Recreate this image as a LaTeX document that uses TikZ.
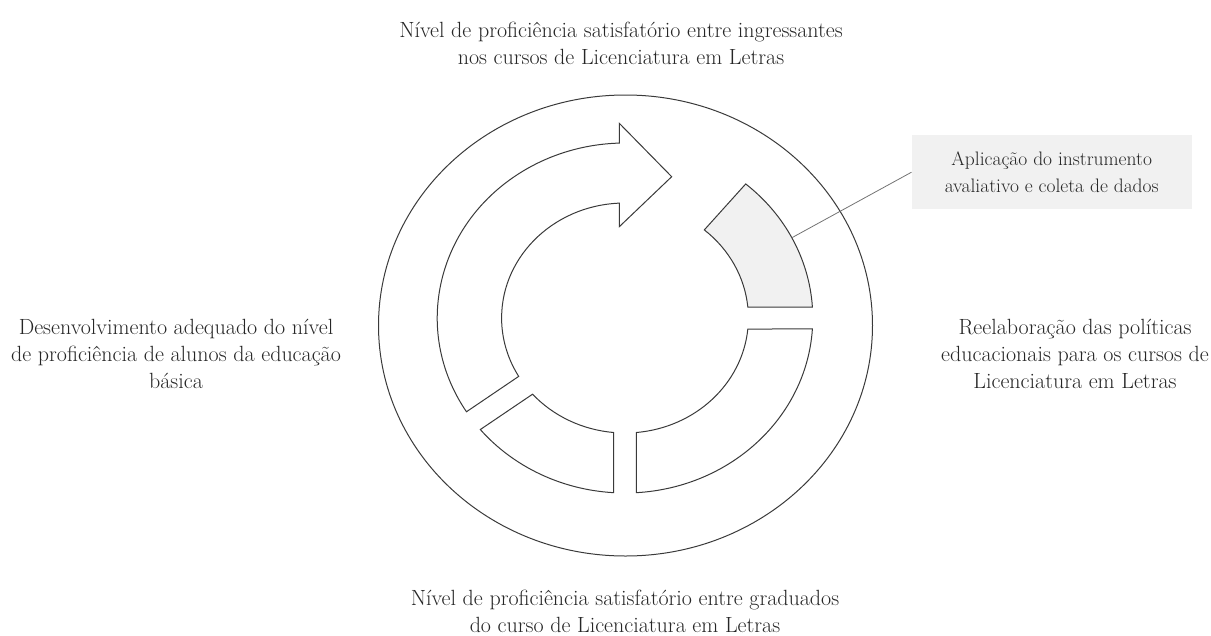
\documentclass[tikz,border=0pt]{standalone}
\usepackage{fontspec}
\definecolor{txt}{HTML}{262626}
\definecolor{edge}{HTML}{3A3A3A}
\definecolor{shade}{HTML}{F1F1F1}
\begin{document}
\begin{tikzpicture}[x=1pt,y=1pt,
  lbl/.style={align=center, text=txt, font=\fontsize{22}{27}\selectfont, inner sep=0pt},
  ring/.style={draw=edge, line width=1pt},
  seg/.style={draw=edge, line width=1pt, fill=white, line join=miter},
  hiseg/.style={seg, fill=shade},
  callout/.style={align=center, text=txt, font=\fontsize{19.5}{26.7}\selectfont, inner sep=0pt,
    fill=shade, minimum width=280, minimum height=74},
  leader/.style={draw=black!55, line width=0.8pt}
]
\useasboundingbox (0,0) rectangle (1211,-635);
% outer ellipse
\draw[ring] (625.5,-325.5) ellipse[x radius=247, y radius=230.5];
% ring segments
\begin{scope}[shift={(625,-318)}, xscale=1.073]
  % arrow
  \draw[seg] (91.74:175) -- (-5.3,194.7) -- (43.5,141.3) -- (-5.3,91.3) -- (92.64:115)
    arc[start angle=92.64, end angle=210.51, radius=115] -- (212.4:175)
    arc[start angle=212.4, end angle=91.74, radius=175] -- cycle;
  % highlighted segment (upper right)
  \draw[hiseg] (50:115) -- (50:175)
    arc[start angle=50, end angle=3.6, radius=175] -- (5.49:115)
    arc[start angle=5.49, end angle=50, radius=115] -- cycle;
  % lower right
  \draw[seg] (-3.6:175) arc[start angle=-3.6, end angle=-86.5, radius=175] -- (-84.66:115)
    arc[start angle=-84.66, end angle=-5.49, radius=115] -- cycle;
  % lower left
  \draw[seg] (219.6:175) arc[start angle=219.6, end angle=266.5, radius=175] -- (264.66:115)
    arc[start angle=264.66, end angle=221.49, radius=115] -- cycle;
  \coordinate (hitarget) at (27.3:175);
\end{scope}
% labels
\node[lbl] (top) at (621,-43.5) {Nível de proficiência satisfatório entre ingressantes\\nos cursos de Licenciatura em Letras};
\node[lbl] (left) at (176,-354) {Desenvolvimento adequado do nível\\de proficiência de alunos da educação\\básica};
\node[lbl] (right) at (1075,-354) {Reelaboração das políticas\\educacionais para os cursos de\\Licenciatura em Letras};
\node[lbl] (bottom) at (625,-611) {Nível de proficiência satisfatório entre graduados\\do curso de Licenciatura em Letras};
\node[callout] (box) at (1051.7,-172.2) {Aplicação do instrumento\\avaliativo e coleta de dados};
\draw[leader] (box.west) -- (hitarget);
\end{tikzpicture}
\end{document}
